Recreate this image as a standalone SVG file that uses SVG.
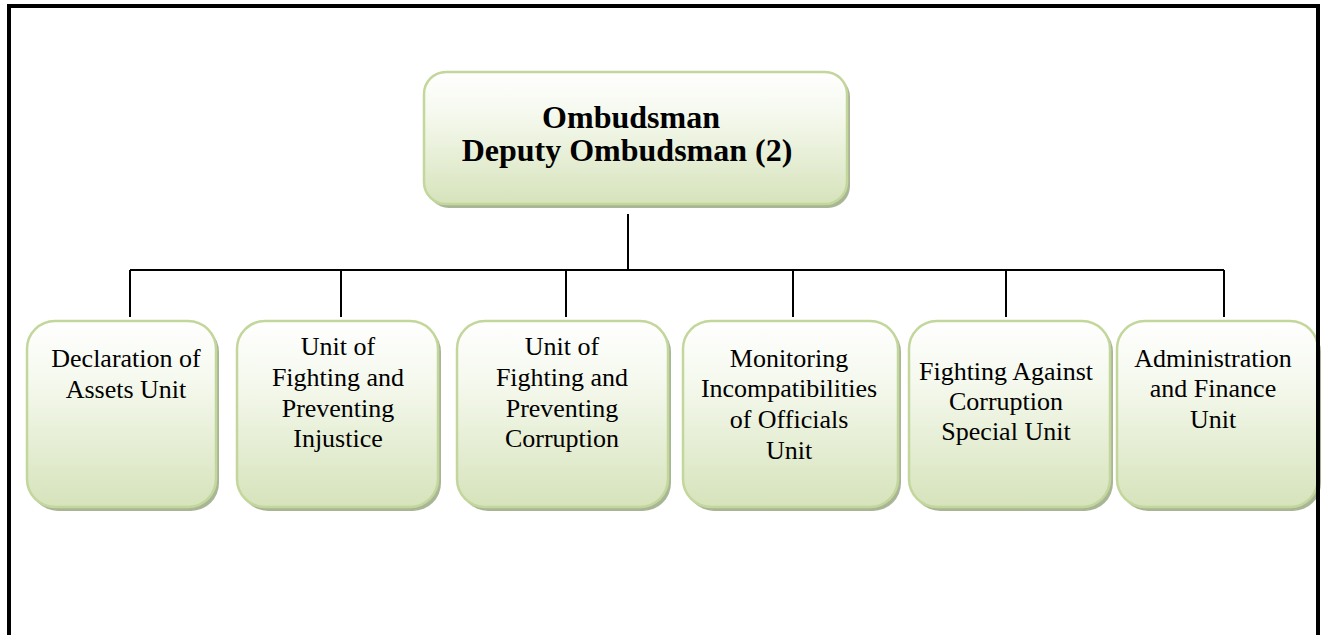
<svg xmlns="http://www.w3.org/2000/svg" width="1325" height="635" viewBox="0 0 1325 635">
<defs>
<linearGradient id="g" x1="0" y1="0" x2="0" y2="1">
<stop offset="0" stop-color="#ffffff"/>
<stop offset="0.35" stop-color="#f4f8ec"/>
<stop offset="1" stop-color="#d6e3bb"/>
</linearGradient>
<style>
.box{fill:url(#g);stroke:#c3d69b;stroke-width:2.5}
.sh{fill:#a9b696}
.t{font-family:"Liberation Serif","Times New Roman",serif;font-size:26px;fill:#000;text-anchor:middle}
.tb{font-family:"Liberation Serif","Times New Roman",serif;font-size:32px;font-weight:bold;fill:#000;text-anchor:middle}
.c{stroke:#000;stroke-width:2;fill:none}
</style>
</defs>
<rect width="1325" height="635" fill="#fff"/>
<g id="connectors">
<path class="c" d="M628,214 V270 M130,270 H1224 M130,270 V317 M341,270 V317 M566,270 V317 M793,270 V317 M1006,270 V317 M1224,270 V317"/>
</g>
<g id="top">
<rect class="sh" x="427" y="75" width="423" height="133" rx="22"/>
<rect class="box" x="424" y="72" width="423" height="132" rx="22"/>
<text class="tb" x="631" y="128">Ombudsman</text>
<text class="tb" x="627" y="161">Deputy Ombudsman (2)</text>
</g>
<g id="n1">
<rect class="sh" x="30" y="324" width="189" height="187" rx="28"/>
<rect class="box" x="27" y="321" width="189" height="186" rx="28"/>
<text class="t" x="126" y="367">Declaration of</text>
<text class="t" x="126" y="398">Assets Unit</text>
</g>
<g id="n2">
<rect class="sh" x="240" y="324" width="201" height="187" rx="28"/>
<rect class="box" x="237" y="321" width="201" height="186" rx="28"/>
<text class="t" x="338" y="355">Unit of</text>
<text class="t" x="338" y="386">Fighting and</text>
<text class="t" x="338" y="417">Preventing</text>
<text class="t" x="338" y="447">Injustice</text>
</g>
<g id="n3">
<rect class="sh" x="460" y="324" width="211" height="187" rx="28"/>
<rect class="box" x="457" y="321" width="211" height="186" rx="28"/>
<text class="t" x="562" y="355">Unit of</text>
<text class="t" x="562" y="386">Fighting and</text>
<text class="t" x="562" y="417">Preventing</text>
<text class="t" x="562" y="447">Corruption</text>
</g>
<g id="n4">
<rect class="sh" x="686" y="324" width="215" height="187" rx="28"/>
<rect class="box" x="683" y="321" width="215" height="186" rx="28"/>
<text class="t" x="789" y="367">Monitoring</text>
<text class="t" x="789" y="397">Incompatibilities</text>
<text class="t" x="789" y="428">of Officials</text>
<text class="t" x="789" y="459">Unit</text>
</g>
<g id="n5">
<rect class="sh" x="912" y="324" width="201" height="187" rx="28"/>
<rect class="box" x="909" y="321" width="201" height="186" rx="28"/>
<text class="t" x="1006" y="380">Fighting Against</text>
<text class="t" x="1006" y="410">Corruption</text>
<text class="t" x="1006" y="440">Special Unit</text>
</g>
<g id="n6">
<rect class="sh" x="1120" y="324" width="201" height="187" rx="28"/>
<rect class="box" x="1117" y="321" width="201" height="186" rx="28"/>
<text class="t" x="1213" y="367">Administration</text>
<text class="t" x="1213" y="397">and Finance</text>
<text class="t" x="1213" y="428">Unit</text>
</g>
<g id="frame">
<path d="M9,635 V6 H1318 V635" fill="none" stroke="#000" stroke-width="4"/>
</g>
</svg>
